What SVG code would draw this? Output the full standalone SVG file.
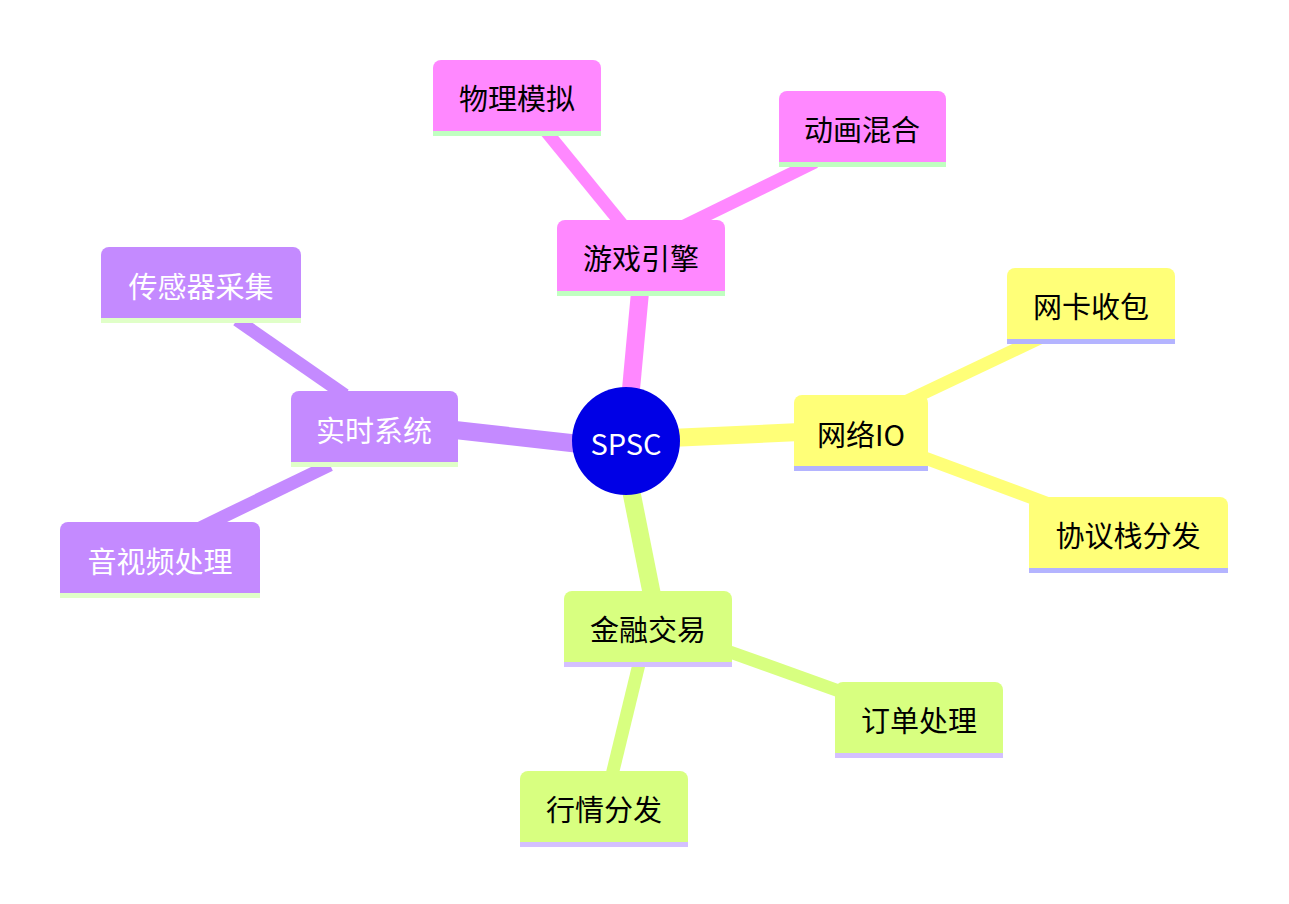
<svg xmlns="http://www.w3.org/2000/svg" width="1289" height="904" viewBox="0 0 1289 904">
<style>
text{font-family:"Noto Sans CJK SC","Noto Sans",sans-serif;font-size:29px;text-anchor:middle;dominant-baseline:central}
.m{fill:#ff88ff}.y{fill:#ffff78}.g{fill:#d8ff80}.p{fill:#c48aff}
.ml{fill:#c0ffc0}.yl{fill:#b4b4ff}.gl{fill:#d4c0ff}.pl{fill:#e0ffc8}
.e{fill:none;stroke-linecap:butt}
</style>
<rect width="1289" height="904" fill="#fff"/>
<g id="connectors">
<line class="e" x1="630" y1="400" x2="640" y2="292" stroke="#ff88ff" stroke-width="18"/>
<line class="e" x1="625" y1="228" x2="545" y2="130" stroke="#ff88ff" stroke-width="13"/>
<line class="e" x1="680" y1="228" x2="815" y2="162" stroke="#ff88ff" stroke-width="13"/>
<line class="e" x1="670" y1="438" x2="800" y2="432" stroke="#ffff78" stroke-width="18"/>
<line class="e" x1="905" y1="402" x2="1040" y2="338" stroke="#ffff78" stroke-width="13"/>
<line class="e" x1="925" y1="458" x2="1065" y2="510" stroke="#ffff78" stroke-width="13"/>
<line class="e" x1="630" y1="485" x2="652" y2="595" stroke="#d8ff80" stroke-width="18"/>
<line class="e" x1="730" y1="652" x2="850" y2="695" stroke="#d8ff80" stroke-width="13"/>
<line class="e" x1="640" y1="660" x2="612" y2="775" stroke="#d8ff80" stroke-width="13"/>
<line class="e" x1="580" y1="444" x2="455" y2="430" stroke="#c48aff" stroke-width="18"/>
<line class="e" x1="345" y1="395" x2="237" y2="320" stroke="#c48aff" stroke-width="13"/>
<line class="e" x1="330" y1="465" x2="200" y2="528" stroke="#c48aff" stroke-width="13"/>
</g>
<g id="n-root"><circle cx="626" cy="441" r="54" fill="#0000e6"/><text x="626" y="442" fill="#fff">SPSC</text></g>
<g id="n-game"><path class="m" d="M557,228a8,8 0 0 1 8,-8h152a8,8 0 0 1 8,8v68h-168z"/><rect class="ml" x="557" y="291" width="168" height="5"/><text x="641" y="257">游戏引擎</text></g>
<g id="n-phys"><path class="m" d="M433,68a8,8 0 0 1 8,-8h152a8,8 0 0 1 8,8v68h-168z"/><rect class="ml" x="433" y="131" width="168" height="5"/><text x="517" y="97">物理模拟</text></g>
<g id="n-anim"><path class="m" d="M779,99a8,8 0 0 1 8,-8h151a8,8 0 0 1 8,8v68h-167z"/><rect class="ml" x="779" y="162" width="167" height="5"/><text x="862" y="128">动画混合</text></g>
<g id="n-net"><path class="y" d="M794,403a8,8 0 0 1 8,-8h118a8,8 0 0 1 8,8v68h-134z"/><rect class="yl" x="794" y="466" width="134" height="5"/><text x="861" y="433">网络IO</text></g>
<g id="n-nic"><path class="y" d="M1007,276a8,8 0 0 1 8,-8h152a8,8 0 0 1 8,8v68h-168z"/><rect class="yl" x="1007" y="339" width="168" height="5"/><text x="1091" y="305">网卡收包</text></g>
<g id="n-proto"><path class="y" d="M1029,505a8,8 0 0 1 8,-8h183a8,8 0 0 1 8,8v68h-199z"/><rect class="yl" x="1029" y="568" width="199" height="5"/><text x="1128" y="534">协议栈分发</text></g>
<g id="n-fin"><path class="g" d="M564,599a8,8 0 0 1 8,-8h152a8,8 0 0 1 8,8v68h-168z"/><rect class="gl" x="564" y="662" width="168" height="5"/><text x="648" y="628">金融交易</text></g>
<g id="n-order"><path class="g" d="M835,690a8,8 0 0 1 8,-8h152a8,8 0 0 1 8,8v68h-168z"/><rect class="gl" x="835" y="753" width="168" height="5"/><text x="919" y="719">订单处理</text></g>
<g id="n-quote"><path class="g" d="M520,779a8,8 0 0 1 8,-8h152a8,8 0 0 1 8,8v68h-168z"/><rect class="gl" x="520" y="842" width="168" height="5"/><text x="604" y="808">行情分发</text></g>
<g id="n-rt"><path class="p" d="M291,399a8,8 0 0 1 8,-8h151a8,8 0 0 1 8,8v68h-167z"/><rect class="pl" x="291" y="462" width="167" height="5"/><text x="374" y="429" fill="#fff">实时系统</text></g>
<g id="n-sensor"><path class="p" d="M101,255a8,8 0 0 1 8,-8h184a8,8 0 0 1 8,8v68h-200z"/><rect class="pl" x="101" y="318" width="200" height="5"/><text x="201" y="285" fill="#fff">传感器采集</text></g>
<g id="n-av"><path class="p" d="M60,530a8,8 0 0 1 8,-8h184a8,8 0 0 1 8,8v68h-200z"/><rect class="pl" x="60" y="593" width="200" height="5"/><text x="160" y="560" fill="#fff">音视频处理</text></g>
</svg>
